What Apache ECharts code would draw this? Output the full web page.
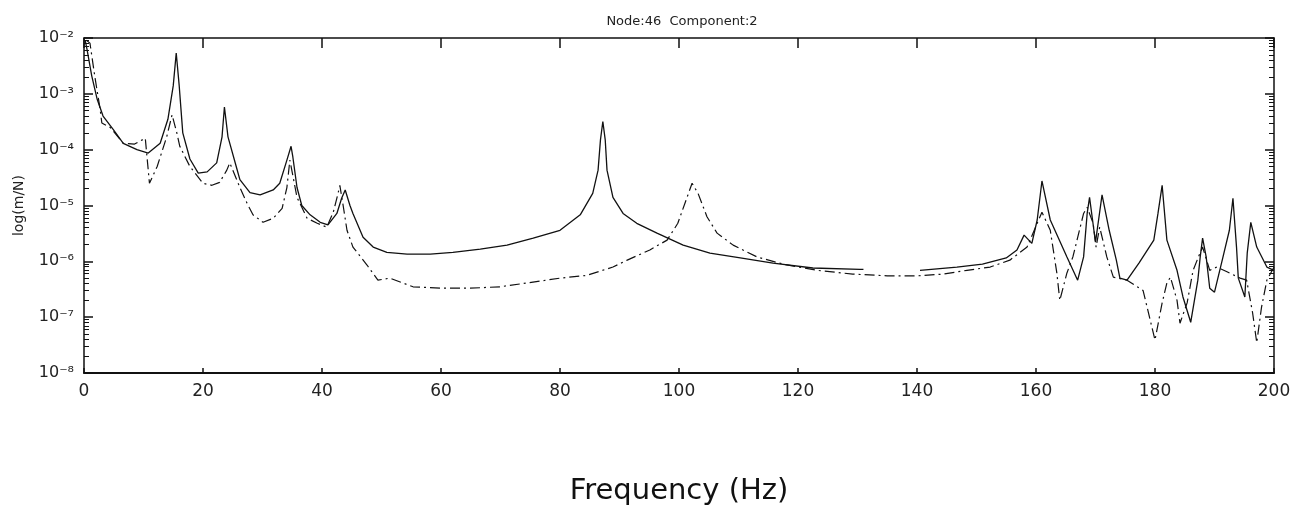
<!DOCTYPE html>
<html>
<head>
<meta charset="utf-8">
<script src="https://cdn.jsdelivr.net/npm/echarts@6/dist/echarts.min.js"></script>
<style>html,body{margin:0;padding:0;background:#fff;}#c{width:1304px;height:515px;}</style>
</head>
<body>
<div id="c"></div>
<script>
// Solid curve
const freqSolid = [0.2,0.5,1.3,2.2,3.2,4.9,6.6,8.9,10.8,12.8,14.1,15,15.5,16,16.6,17.8,19.2,20.7,22.3,23.2,23.6,24.2,25.7,26.2,27.9,29.6,31.8,32.9,34.1,34.8,35.1,35.8,36.6,38,39.7,41,42.5,43.3,43.9,44.7,45.2,46.9,48.6,50.9,54.3,58.2,62,66.6,71.1,75.5,80,83.4,85.5,86.4,86.8,87.2,87.6,87.9,88.9,90.6,92.9,96.3,100.7,105.2,110.3,115.8,122.5,130.4,131,135,140.5,146.7,151,155,156.8,158,159.3,160.2,161,162.4,165.2,167,168,168.6,169,170,171.1,172.3,173.5,174.1,175.3,177.3,179.8,180.5,181.2,182,183.7,184.7,186,187.2,187.6,188,188.6,189.2,190,191.3,192.5,193.1,193.7,194,195.1,195.5,196.1,197.1,198.8,200];
const magSolid = [9.1e-3,6.3e-3,2.1e-3,8.1e-4,4.0e-4,2.3e-4,1.3e-4,1.0e-4,8.7e-5,1.3e-4,3.5e-4,1.4e-3,5.4e-3,1.4e-3,2.0e-4,6.8e-5,3.8e-5,4.0e-5,5.8e-5,1.7e-4,5.8e-4,1.7e-4,4.5e-5,2.9e-5,1.7e-5,1.55e-5,1.9e-5,2.5e-5,6.5e-5,1.15e-4,7.4e-5,2.1e-5,1.0e-5,6.8e-6,5.0e-6,4.5e-6,7.2e-6,1.35e-5,1.9e-5,1.0e-5,7.2e-6,2.7e-6,1.8e-6,1.45e-6,1.35e-6,1.35e-6,1.45e-6,1.65e-6,1.95e-6,2.6e-6,3.6e-6,6.8e-6,1.65e-5,4.3e-5,1.5e-4,3.2e-4,1.5e-4,4.3e-5,1.4e-5,7.2e-6,4.8e-6,3.2e-6,1.95e-6,1.4e-6,1.15e-6,9.3e-7,7.6e-7,7.2e-7,7.2e-7,null,6.9e-7,7.9e-7,8.9e-7,1.15e-6,1.6e-6,2.95e-6,2.1e-6,5.5e-6,2.75e-5,5.5e-6,1.2e-6,4.6e-7,1.2e-6,7.2e-6,1.4e-5,2.2e-6,1.55e-5,3.6e-6,1.05e-6,5.0e-7,4.6e-7,9.3e-7,2.4e-6,7.2e-6,2.3e-5,2.4e-6,6.9e-7,2.3e-7,8.1e-8,4.6e-7,1.2e-6,2.6e-6,1.2e-6,3.3e-7,2.8e-7,1.05e-6,3.6e-6,1.35e-5,1.8e-6,5.0e-7,2.3e-7,1.4e-6,5.0e-6,1.8e-6,7.9e-7,6.9e-7];
// Dash-dot curve
const freqDash = [0.4,1,1.8,2.7,3,4.4,6.6,8.5,10.3,11,12.3,13.9,14.8,15.6,16.1,17.8,20,21.5,22.8,24,24.5,26.2,27.4,28.4,30.1,31.8,33.3,34.1,34.6,35.8,37.5,39.2,40.8,41.9,42.7,43,43.6,44.2,45.2,47.6,49.4,51.4,55.3,60.3,64.9,69.9,74.5,80,84.5,88.9,91.3,95.1,98,99.8,101,102.2,103.2,104.7,106.4,109.1,113.1,117.5,123.2,129.2,135,140,144.4,148.4,152.3,155.6,158.5,160.2,161,162.4,163.5,164,165.2,166.2,168,168.6,169.6,170.1,170.7,171.9,173,175.3,178,180,181.2,182,182.6,183.7,184.2,185.4,186.4,187.3,188,189.2,190.4,192.1,194.3,195.4,196.4,197.1,197.9,198.8,200];
const magDash = [9.1e-3,8.1e-3,2.1e-3,5.4e-4,3.0e-4,2.5e-4,1.3e-4,1.26e-4,1.6e-4,2.5e-5,5.0e-5,1.7e-4,4.2e-4,2.0e-4,1.15e-4,5.0e-5,2.5e-5,2.3e-5,2.6e-5,4.3e-5,5.8e-5,2.1e-5,1.1e-5,6.8e-6,5.0e-6,5.9e-6,8.9e-6,2.1e-5,6.5e-5,1.4e-5,5.9e-6,4.8e-6,4.1e-6,7.6e-6,1.65e-5,2.3e-5,9.3e-6,3.6e-6,1.8e-6,8.5e-7,4.6e-7,5.0e-7,3.5e-7,3.3e-7,3.3e-7,3.5e-7,4.1e-7,5.0e-7,5.6e-7,7.9e-7,1.05e-6,1.6e-6,2.4e-6,4.8e-6,1.1e-5,2.5e-5,1.65e-5,6.3e-6,3.2e-6,1.95e-6,1.2e-6,8.9e-7,6.9e-7,5.9e-7,5.5e-7,5.5e-7,5.9e-7,6.9e-7,7.9e-7,1.05e-6,1.8e-6,4.8e-6,7.6e-6,3.6e-6,6.2e-7,2.0e-7,6.2e-7,1.2e-6,7.2e-6,9.3e-6,4.8e-6,1.8e-6,4.1e-6,1.2e-6,5.2e-7,4.6e-7,3.0e-7,3.9e-8,1.8e-7,4.1e-7,5.2e-7,2.0e-7,7.8e-8,1.8e-7,6.9e-7,1.2e-6,1.8e-6,6.9e-7,7.9e-7,6.5e-7,5.0e-7,4.6e-7,1.2e-7,3.5e-8,1.5e-7,4.6e-7,7.9e-7];
// Axis ticks and labels
const xTicks = [0,20,40,60,80,100,120,140,160,180,200];
const yDecades = [1e-8,1e-7,1e-6,1e-5,1e-4,1e-3,1e-2];
const yTickLabels = ['10\u207B\u2078','10\u207B\u2077','10\u207B\u2076','10\u207B\u2075','10\u207B\u2074','10\u207B\u00B3','10\u207B\u00B2'];
const yMinor = [];
for (let d = 0; d < yDecades.length - 1; d++) for (let m = 2; m <= 9; m++) yMinor.push(+(yDecades[d] * m).toPrecision(3));

const titleText = 'Node:46  Component:2';
const xName = 'Frequency (Hz)';
const yName = 'log(m/N)';

function pairs(xs, ys) { return xs.map((x, i) => [x, ys[i]]); }

const chart = echarts.init(document.getElementById('c'), null, {renderer: 'canvas'});
const axisCol = '#111';
const yBase = {
  type: 'log', logBase: 10, min: 1e-8, max: 1e-2,
  splitLine: {show: false}, minorSplitLine: {show: false}
};
chart.setOption({
  animation: false,
  backgroundColor: '#fff',
  title: {text: titleText, left: 677, top: 10, textAlign: 'center',
    textStyle: {fontFamily: 'DejaVu Sans', fontSize: 13, fontWeight: 'normal', color: '#222'}},
  grid: {left: 84, right: 30, top: 38, bottom: 142, containLabel: false},
  xAxis: [
    {type: 'value', min: 0, max: 200, interval: 20, position: 'bottom',
      name: xName, nameLocation: 'middle', nameGap: 104,
      nameTextStyle: {fontFamily: 'DejaVu Sans', fontSize: 29, color: '#111'},
      axisLine: {lineStyle: {color: axisCol, width: 2}},
      axisTick: {inside: true, length: 5, lineStyle: {color: axisCol, width: 1.5}, customValues: xTicks},
      axisLabel: {fontFamily: 'DejaVu Sans', fontSize: 17, color: '#222', margin: 10, customValues: xTicks},
      splitLine: {show: false}},
    {type: 'value', min: 0, max: 200, interval: 20, position: 'top',
      axisLine: {lineStyle: {color: axisCol, width: 1.5}},
      axisTick: {inside: true, length: 10, lineStyle: {color: axisCol, width: 1.5}},
      axisLabel: {show: false}, splitLine: {show: false}}
  ],
  yAxis: [
    Object.assign({}, yBase, {position: 'left',
      name: yName, nameLocation: 'middle', nameGap: 58, nameRotate: 90,
      nameTextStyle: {fontFamily: 'DejaVu Sans', fontSize: 14, color: '#222'},
      axisLine: {show: true, lineStyle: {color: axisCol, width: 1.5}},
      axisTick: {inside: true, length: 9, lineStyle: {color: axisCol, width: 1.5}, customValues: yDecades},
      axisLabel: {fontFamily: 'DejaVu Sans', fontSize: 16, color: '#222', margin: 10,
        customValues: yDecades,
        formatter: v => { const i = yDecades.findIndex(d => Math.abs(Math.log10(d) - Math.log10(v)) < 1e-6); return i >= 0 ? yTickLabels[i] : ''; }}}),
    Object.assign({}, yBase, {position: 'left',
      axisLine: {show: false},
      axisTick: {inside: true, length: 5, lineStyle: {color: axisCol, width: 1}, customValues: yMinor},
      axisLabel: {show: false}}),
    Object.assign({}, yBase, {position: 'right',
      axisLine: {show: true, lineStyle: {color: axisCol, width: 1.5}},
      axisTick: {inside: true, length: 9, lineStyle: {color: axisCol, width: 1.5}, customValues: yDecades},
      axisLabel: {show: false}}),
    Object.assign({}, yBase, {position: 'right',
      axisLine: {show: false},
      axisTick: {inside: true, length: 5, lineStyle: {color: axisCol, width: 1}, customValues: yMinor},
      axisLabel: {show: false}})
  ],
  series: [
    {type: 'line', xAxisIndex: 0, yAxisIndex: 0, data: pairs(freqSolid, magSolid),
      showSymbol: false, connectNulls: false, smooth: false,
      lineStyle: {color: '#111', width: 1.3, type: 'solid'}},
    {type: 'line', xAxisIndex: 0, yAxisIndex: 0, data: pairs(freqDash, magDash),
      showSymbol: false, smooth: false,
      lineStyle: {color: '#111', width: 1.2, type: [10, 4, 2, 4]}}
  ]
});
</script>
</body>
</html>
